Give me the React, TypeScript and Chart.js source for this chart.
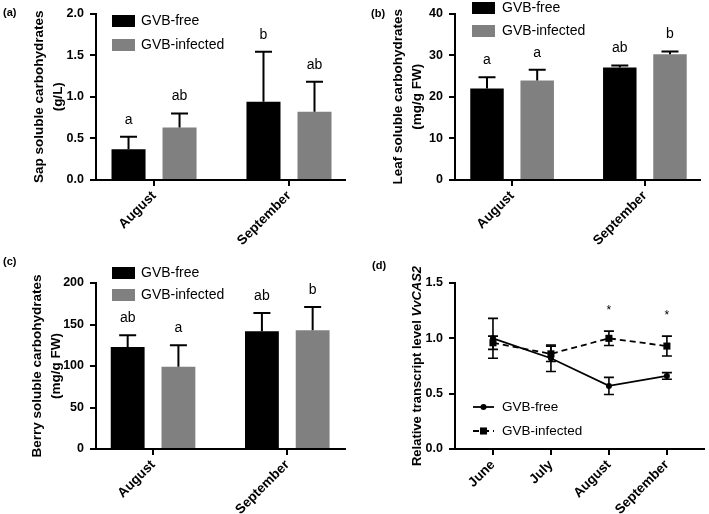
import React, { useEffect, useRef } from 'react';
import { Chart, registerables } from 'chart.js';

Chart.register(...registerables);

const FONT = '"Liberation Sans", Arial, Helvetica, sans-serif';
Chart.defaults.font.family = FONT;

// ---------- data ----------
const barMonths = ['August', 'September'];
const lineMonths = ['June', 'July', 'August', 'September'];
const seriesNames = ['GVB-free', 'GVB-infected'];

// (a) sap soluble carbohydrates (g/L)
const sapFree = [0.37, 0.94];
const sapFreeErr = [0.15, 0.6];
const sapInf = [0.63, 0.82];
const sapInfErr = [0.17, 0.36];
const sapFreeLetters = ['a', 'b'];
const sapInfLetters = ['ab', 'ab'];
const sapTicks = [0, 0.5, 1.0, 1.5, 2.0];

// (b) leaf soluble carbohydrates (mg/g FW)
const leafFree = [22.0, 27.0];
const leafFreeErr = [2.7, 0.5];
const leafInf = [23.9, 30.2];
const leafInfErr = [2.6, 0.7];
const leafFreeLetters = ['a', 'ab'];
const leafInfLetters = ['a', 'b'];
const leafTicks = [0, 10, 20, 30, 40];

// (c) berry soluble carbohydrates (mg/g FW)
const berryFree = [123, 142];
const berryFreeErr = [14, 22];
const berryInf = [99, 143];
const berryInfErr = [26, 28];
const berryFreeLetters = ['ab', 'ab'];
const berryInfLetters = ['a', 'b'];
const berryTicks = [0, 50, 100, 150, 200];

// (d) relative transcript level VvCAS2
const casFree = [1.0, 0.82, 0.57, 0.66];
const casFreeErr = [0.18, 0.12, 0.077, 0.03];
const casInf = [0.96, 0.86, 1.0, 0.93];
const casInfErr = [0.06, 0.07, 0.065, 0.09];
const casStars = ['', '', '*', '*'];
const casTicks = [0, 0.5, 1.0, 1.5];

const BLACK = '#000000';
const GRAY = '#808080';

// ---------- plugins ----------
const errorBarPlugin = {
  id: 'errorBars',
  afterDatasetsDraw(chart: any, _args: any, o: any) {
    if (!o || !o.enabled) return;
    const ctx = chart.ctx;
    const y = chart.scales.y;
    const tops: number[] = [];
    chart.data.datasets.forEach((ds: any, di: number) => {
      const meta = chart.getDatasetMeta(di);
      if (!ds.errors) return;
      meta.data.forEach((el: any, i: number) => {
        const v = ds.data[i].y;
        const e = ds.errors[i];
        const cx = el.x;
        const yTop = y.getPixelForValue(v + e);
        const yMid = y.getPixelForValue(v);
        const yBot = o.symmetric ? y.getPixelForValue(v - e) : yMid;
        ctx.save();
        ctx.strokeStyle = '#000';
        ctx.lineWidth = o.lineWidth;
        ctx.beginPath();
        ctx.moveTo(cx, yBot);
        ctx.lineTo(cx, yTop);
        ctx.moveTo(cx - o.cap, yTop);
        ctx.lineTo(cx + o.cap, yTop);
        if (o.symmetric) {
          ctx.moveTo(cx - o.cap, yBot);
          ctx.lineTo(cx + o.cap, yBot);
        }
        ctx.stroke();
        if (ds.letters && ds.letters[i]) {
          ctx.fillStyle = '#000';
          ctx.font = `${o.letterSize}px ${FONT}`;
          ctx.textAlign = 'center';
          ctx.textBaseline = 'middle';
          ctx.fillText(ds.letters[i], cx, yTop - o.letterGap);
        }
        ctx.restore();
        tops[i] = tops[i] === undefined ? yTop : Math.min(tops[i], yTop);
      });
    });
    if (o.topLabels) {
      const xs = chart.scales.x;
      o.topLabels.texts.forEach((t: string, i: number) => {
        if (!t) return;
        ctx.save();
        ctx.fillStyle = '#000';
        ctx.font = `${o.topLabels.size}px ${FONT}`;
        ctx.textAlign = 'center';
        ctx.textBaseline = 'middle';
        ctx.fillText(t, xs.getPixelForValue(i), tops[i] - o.topLabels.gap);
        ctx.restore();
      });
    }
  },
};

const legendPlugin = {
  id: 'customLegend',
  afterDraw(chart: any, _args: any, o: any) {
    if (!o || !o.enabled) return;
    const ctx = chart.ctx;
    chart.data.datasets.forEach((ds: any, i: number) => {
      const cy = o.y0 + i * o.rowGap;
      ctx.save();
      if (o.kind === 'box') {
        ctx.fillStyle = ds.backgroundColor;
        ctx.fillRect(o.x, cy - o.boxH / 2, o.boxW, o.boxH);
      } else {
        ctx.strokeStyle = ds.borderColor;
        ctx.lineWidth = ds.borderWidth;
        ctx.setLineDash(ds.borderDash || []);
        ctx.beginPath();
        ctx.moveTo(o.x, cy);
        ctx.lineTo(o.x + o.boxW, cy);
        ctx.stroke();
        ctx.setLineDash([]);
        ctx.fillStyle = ds.pointBackgroundColor;
        const mx = o.x + o.boxW / 2;
        if (ds.pointStyle === 'rect') {
          const s = ds.pointRadius * Math.SQRT2;
          ctx.fillRect(mx - s / 2, cy - s / 2, s, s);
        } else {
          ctx.beginPath();
          ctx.arc(mx, cy, ds.pointRadius, 0, Math.PI * 2);
          ctx.fill();
        }
      }
      ctx.fillStyle = '#000';
      ctx.font = `${o.size}px ${FONT}`;
      ctx.textAlign = 'left';
      ctx.textBaseline = 'middle';
      ctx.fillText(ds.label, o.textX, cy);
      ctx.restore();
    });
  },
};

const richTitlePlugin = {
  id: 'richYTitle',
  afterDraw(chart: any, _args: any, o: any) {
    if (!o || !o.parts) return;
    const ctx = chart.ctx;
    const area = chart.chartArea;
    ctx.save();
    const fonts = o.parts.map((p: any) => `${p.italic ? 'italic ' : ''}bold ${o.size}px ${FONT}`);
    let total = 0;
    const widths = o.parts.map((p: any, i: number) => {
      ctx.font = fonts[i];
      const w = ctx.measureText(p.text).width;
      total += w;
      return w;
    });
    ctx.translate(o.x, (area.top + area.bottom) / 2);
    ctx.rotate(-Math.PI / 2);
    ctx.fillStyle = '#000';
    ctx.textAlign = 'left';
    ctx.textBaseline = 'middle';
    let x = -total / 2;
    o.parts.forEach((p: any, i: number) => {
      ctx.font = fonts[i];
      ctx.fillText(p.text, x, 0);
      x += widths[i];
    });
    ctx.restore();
  },
};

// ---------- config builders ----------
type Box = {
  w: number; h: number; left: number; top: number; right: number; bottom: number;
  xMin: number; xMax: number;
};

const gridOpts = {
  display: true,
  drawOnChartArea: false,
  drawTicks: true,
  tickLength: 6,
  color: '#000',
  lineWidth: 2,
  offset: false,
};
const borderOpts = { display: true, color: '#000', width: 2 };

function makeScales(b: Box, xLabels: string[], yTicks: number[], decimals: number, title: any) {
  return {
    x: {
      type: 'linear',
      min: b.xMin,
      max: b.xMax,
      offset: false,
      afterBuildTicks: (s: any) => {
        s.ticks = xLabels.map((_, i) => ({ value: i }));
      },
      afterFit: (s: any) => {
        s.height = b.h - b.bottom;
      },
      ticks: {
        autoSkip: false,
        maxRotation: 45,
        minRotation: 45,
        padding: 2,
        color: '#000',
        font: { family: FONT, size: 13.5, weight: 'bold' },
        callback: (v: any) => xLabels[Math.round(v)] ?? '',
      },
      grid: gridOpts,
      border: borderOpts,
    },
    y: {
      type: 'linear',
      min: yTicks[0],
      max: yTicks[yTicks.length - 1],
      afterBuildTicks: (s: any) => {
        s.ticks = yTicks.map((v) => ({ value: v }));
      },
      afterFit: (s: any) => {
        s.width = b.left;
      },
      ticks: {
        padding: 6,
        color: '#000',
        font: { family: FONT, size: 12.5, weight: 'bold' },
        callback: (v: any) => Number(v).toFixed(decimals),
      },
      grid: gridOpts,
      border: borderOpts,
      title,
    },
  };
}

function barConfig(
  b: Box,
  free: number[], freeErr: number[], freeLetters: string[],
  inf: number[], infErr: number[], infLetters: string[],
  yTicks: number[], decimals: number, titleLines: string[], titlePad: number, legend: any,
) {
  return {
    type: 'bar',
    data: {
      datasets: [
        {
          label: seriesNames[0],
          data: free.map((v, i) => ({ x: i, y: v })),
          backgroundColor: BLACK,
          errors: freeErr,
          letters: freeLetters,
          categoryPercentage: 0.756,
          barPercentage: 0.667,
        },
        {
          label: seriesNames[1],
          data: inf.map((v, i) => ({ x: i, y: v })),
          backgroundColor: GRAY,
          errors: infErr,
          letters: infLetters,
          categoryPercentage: 0.756,
          barPercentage: 0.667,
        },
      ],
    },
    options: {
      responsive: false,
      animation: false,
      layout: { padding: { top: b.top, right: b.w - b.right, left: 0, bottom: 0 } },
      scales: makeScales(b, barMonths, yTicks, decimals, {
        display: true,
        text: titleLines,
        color: '#000',
        font: { family: FONT, size: 13.5, weight: 'bold', lineHeight: 1.45 },
        padding: { top: titlePad, bottom: 0 },
      }),
      plugins: {
        legend: { display: false },
        tooltip: { enabled: false },
        errorBars: { enabled: true, lineWidth: 2, cap: 8.5, symmetric: false, letterGap: 17, letterSize: 14 },
        customLegend: { enabled: true, kind: 'box', boxW: 23, boxH: 12, size: 14, ...legend },
      },
    },
    plugins: [errorBarPlugin, legendPlugin],
  };
}

const boxA: Box = { w: 354, h: 250, left: 96, top: 11, right: 345, bottom: 180, xMin: -0.43, xMax: 1.415 };
const boxB: Box = { w: 355, h: 250, left: 101, top: 11, right: 346, bottom: 180, xMin: -0.43, xMax: 1.415 };
const boxC: Box = { w: 354, h: 264, left: 96, top: 33, right: 345, bottom: 199, xMin: -0.425, xMax: 1.43 };
const boxD: Box = { w: 355, h: 264, left: 101, top: 33, right: 350, bottom: 199, xMin: -0.655, xMax: 3.64 };

function configA() {
  return barConfig(boxA, sapFree, sapFreeErr, sapFreeLetters, sapInf, sapInfErr, sapInfLetters,
    sapTicks, 1, ['Sap soluble carbohydrates', '(g/L)'], 29,
    { x: 112, y0: 21, rowGap: 24, textX: 141 });
}
function configB() {
  return barConfig(boxB, leafFree, leafFreeErr, leafFreeLetters, leafInf, leafInfErr, leafInfLetters,
    leafTicks, 0, ['Leaf soluble carbohydrates', '(mg/g FW)'], 34,
    { x: 118, y0: 8, rowGap: 23, textX: 148 });
}
function configC() {
  return barConfig(boxC, berryFree, berryFreeErr, berryFreeLetters, berryInf, berryInfErr, berryInfLetters,
    berryTicks, 0, ['Berry soluble carbohydrates', '(mg/g FW)'], 27,
    { x: 112, y0: 23, rowGap: 22, textX: 141 });
}
function configD() {
  return {
    type: 'line',
    data: {
      datasets: [
        {
          label: seriesNames[0],
          data: casFree.map((v, i) => ({ x: i, y: v })),
          borderColor: BLACK,
          borderWidth: 1.8,
          pointStyle: 'circle',
          pointRadius: 3,
          pointBackgroundColor: BLACK,
          pointBorderWidth: 0,
          errors: casFreeErr,
          tension: 0,
        },
        {
          label: seriesNames[1],
          data: casInf.map((v, i) => ({ x: i, y: v })),
          borderColor: BLACK,
          borderWidth: 1.8,
          borderDash: [6, 4],
          pointStyle: 'rect',
          pointRadius: 5,
          pointBackgroundColor: BLACK,
          pointBorderWidth: 0,
          errors: casInfErr,
          tension: 0,
        },
      ],
    },
    options: {
      responsive: false,
      animation: false,
      layout: { padding: { top: boxD.top, right: boxD.w - boxD.right, left: 0, bottom: 0 } },
      scales: makeScales(boxD, lineMonths, casTicks, 1, { display: false }),
      plugins: {
        legend: { display: false },
        tooltip: { enabled: false },
        errorBars: {
          enabled: true, lineWidth: 1.6, cap: 5, symmetric: true, letterGap: 17, letterSize: 14,
          topLabels: { texts: casStars, gap: 20, size: 12 },
        },
        customLegend: { enabled: true, kind: 'line', x: 119, y0: 157, rowGap: 24, boxW: 21, textX: 148, size: 13.5 },
        richYTitle: {
          x: 63,
          size: 13,
          parts: [
            { text: 'Relative transcript level ', italic: false },
            { text: 'VvCAS2', italic: true },
          ],
        },
      },
    },
    plugins: [errorBarPlugin, legendPlugin, richTitlePlugin],
  };
}

// ---------- components ----------
function ChartPanel(props: { make: () => any; left: number; top: number; w: number; h: number }) {
  const ref = useRef<HTMLCanvasElement>(null);
  useEffect(() => {
    const chart = new Chart(ref.current as HTMLCanvasElement, props.make() as any);
    return () => chart.destroy();
  }, []);
  return (
    <canvas
      ref={ref}
      width={props.w}
      height={props.h}
      style={{ position: 'absolute', left: props.left, top: props.top, width: props.w, height: props.h }}
    />
  );
}

const panelLabelStyle: React.CSSProperties = {
  position: 'absolute',
  fontFamily: FONT,
  fontSize: 11,
  fontWeight: 'bold',
  color: '#000',
  lineHeight: '12px',
};

export default function App() {
  return (
    <div style={{ position: 'absolute', left: 0, top: 0, width: 709, height: 514, background: '#fff', overflow: 'hidden' }}>
      <ChartPanel make={configA} left={0} top={0} w={354} h={250} />
      <ChartPanel make={configB} left={354} top={0} w={355} h={250} />
      <ChartPanel make={configC} left={0} top={250} w={354} h={264} />
      <ChartPanel make={configD} left={354} top={250} w={355} h={264} />
      <span style={{ ...panelLabelStyle, left: 3, top: 6 }}>(a)</span>
      <span style={{ ...panelLabelStyle, left: 371, top: 7 }}>(b)</span>
      <span style={{ ...panelLabelStyle, left: 3, top: 255 }}>(c)</span>
      <span style={{ ...panelLabelStyle, left: 372, top: 259 }}>(d)</span>
    </div>
  );
}
